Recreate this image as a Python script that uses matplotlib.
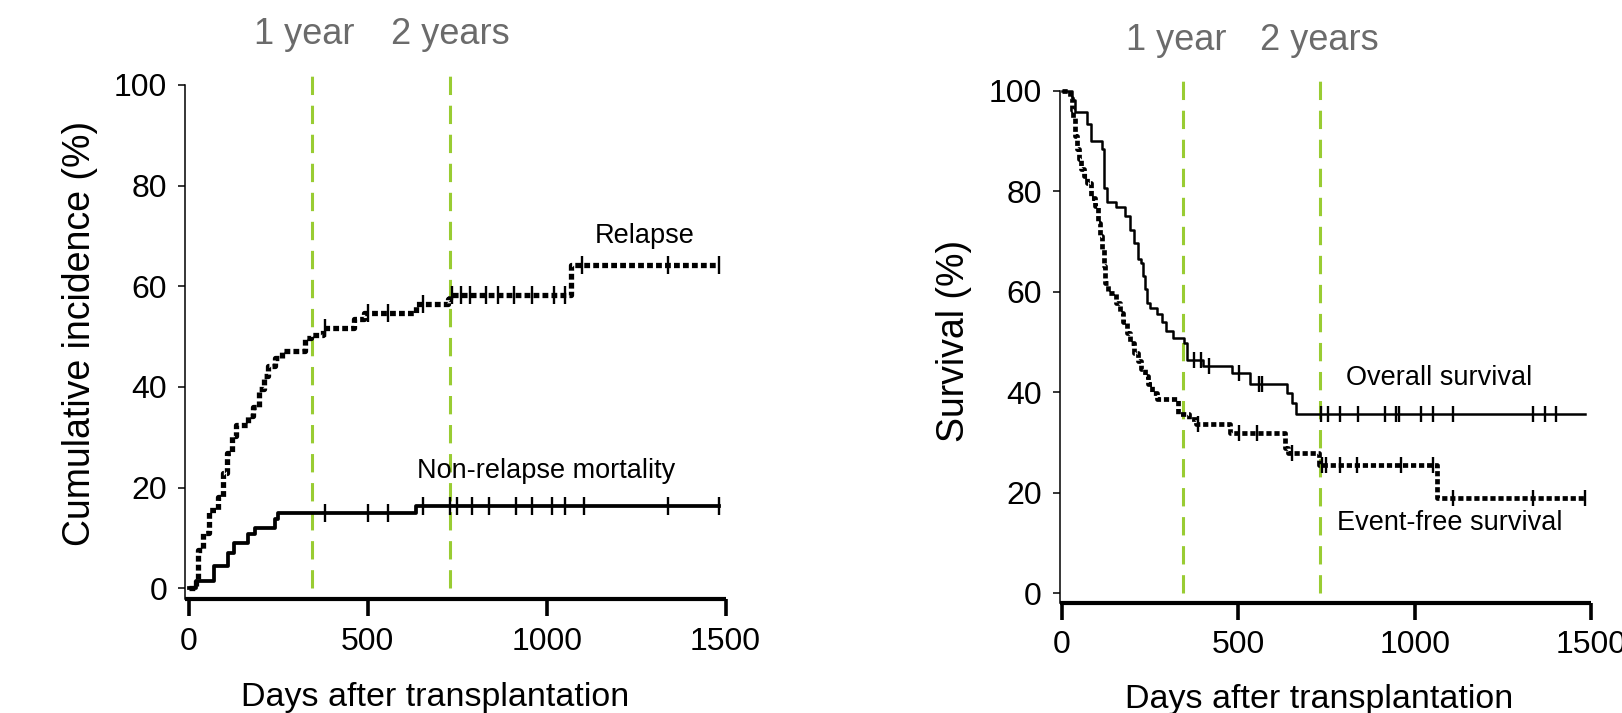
import numpy as np
import matplotlib
matplotlib.use('Agg')
import matplotlib.pyplot as plt

plt.rcParams['font.family'] = ['Liberation Sans', 'DejaVu Sans']

# ---- data (days, %) ----
end_day = 1482
year_lines = [343, 730]
year_labels = ['1 year', '2 years']

relapse_days = [0, 20, 25, 40, 55, 80, 95, 105, 120, 130, 165, 180, 195, 210, 220,
                240, 260, 325, 340, 375, 460, 490, 635, 725, 730, 1068]
relapse_pct = [0, 1.7, 7.6, 10.9, 15.6, 18.2, 22.9, 26.9, 30.2, 32.5, 34.2, 36.1, 39.5,
               42.1, 44.1, 45.8, 47.1, 49.7, 50.4, 51.7, 53.4, 54.7, 56.4, 57.4, 58.2, 64.3]
relapse_censor = [380, 500, 555, 655, 735, 760, 785, 830, 865, 910, 960, 1020, 1050,
                  1100, 1340, 1482]

nrm_days = [0, 20, 70, 110, 125, 165, 185, 240, 250, 635]
nrm_pct = [0, 1.5, 4.4, 7.0, 9.0, 10.8, 12.0, 13.8, 14.9, 16.4]
nrm_censor = [380, 500, 555, 655, 730, 750, 790, 840, 915, 960, 1015, 1050, 1105,
              1340, 1482]

os_days = [0, 27, 37, 72, 82, 113, 118, 128, 153, 178, 193, 204, 214, 224, 229, 234,
           242, 249, 269, 284, 294, 315, 345, 355, 400, 481, 532, 638, 653, 663]
os_pct = [100, 98.3, 95.8, 93.5, 90.0, 88.4, 80.7, 77.8, 76.8, 75.1, 72.4, 69.8, 66.5,
          65.8, 63.1, 60.5, 57.8, 56.8, 55.5, 53.9, 52.2, 50.9, 49.9, 46.5, 45.2, 43.9,
          41.6, 39.9, 37.9, 35.6]
os_censor = [375, 395, 416, 502, 557, 567, 734, 754, 789, 840, 915, 946, 956, 1017,
             1052, 1108, 1335, 1370, 1400]

efs_days = [0, 22, 27, 32, 37, 42, 47, 54, 62, 72, 82, 93, 103, 108, 113, 118, 123,
            131, 153, 163, 173, 183, 193, 204, 214, 224, 234, 244, 254, 269, 330, 360,
            380, 476, 633, 640, 728, 1062]
efs_pct = [100, 98.7, 96.3, 94.7, 91.0, 88.4, 86.4, 84.4, 83.1, 81.7, 78.7, 77.1, 73.8,
           71.1, 68.5, 65.1, 61.8, 59.8, 57.8, 55.8, 53.9, 51.9, 49.9, 47.9, 46.2, 44.6,
           43.2, 41.6, 39.9, 38.6, 35.6, 34.6, 33.6, 31.9, 28.9, 28.0, 25.6, 19.0]
efs_censor = [385, 502, 553, 653, 737, 749, 789, 835, 961, 1052, 1108, 1335, 1482]

GREEN = '#99cc33'
GRAY = '#6b6b6b'
DOTS = (0, (1.1, 0.6))


def km(ax, days, pct, censor, lw, ls, ms):
    d = np.append(days, end_day)
    p = np.append(pct, pct[-1])
    ax.step(d, p, where='post', color='black', lw=lw, linestyle=ls,
            clip_on=False, zorder=3)
    idx = np.searchsorted(days, censor, side='right') - 1
    ax.plot(censor, np.array(pct)[idx], '|', color='black', ms=ms, mew=1.7,
            clip_on=False, zorder=4)


def style(ax, xlim, ylim):
    ax.set_xlim(xlim)
    ax.set_ylim(ylim)
    ax.spines['top'].set_visible(False)
    ax.spines['right'].set_visible(False)
    ax.spines['left'].set_linewidth(1.1)
    ax.spines['bottom'].set_linewidth(3.0)
    ax.spines['bottom'].set_capstyle('butt')
    ax.set_xticks([0, 500, 1000, 1500])
    ax.set_yticks([0, 20, 40, 60, 80, 100])
    ax.tick_params(axis='x', direction='out', length=12, width=2.6, pad=8, labelsize=23)
    ax.tick_params(axis='y', direction='out', length=5, width=1.1, pad=8, labelsize=23)
    for x in year_lines:
        ax.plot([x, x], [0, 103.5], color=GREEN, lw=2.2, linestyle=(0, (6, 3.5)),
                clip_on=False, zorder=2)
    tr = ax.get_xaxis_transform()
    ax.text(year_lines[0] - 20, 1.099, year_labels[0], transform=tr, ha='center',
            va='center', fontsize=26, color=GRAY)
    ax.text(year_lines[1], 1.099, year_labels[1], transform=tr, ha='center',
            va='center', fontsize=26, color=GRAY)


fig = plt.figure(figsize=(16.22, 7.13), dpi=100)

ax1 = fig.add_axes([0.1141, 0.1595, 0.3332, 0.7213])
style(ax1, (-11, 1500), (-2.2, 100))
km(ax1, relapse_days, relapse_pct, relapse_censor, 3.8, DOTS, 13)
km(ax1, nrm_days, nrm_pct, nrm_censor, 2.7, '-', 13)
ax1.text(1275, 70, 'Relapse', fontsize=19.5, ha='center', va='center')
ax1.text(999, 23.3, 'Non-relapse mortality', fontsize=19.5, ha='center', va='center')
ax1.set_xlabel('Days after transplantation', fontsize=24.5)
ax1.xaxis.set_label_coords(0.462, -0.161)
ax1.set_ylabel('Cumulative incidence (%)', fontsize=27)
ax1.yaxis.set_label_coords(-0.161, 0.516)

ax2 = fig.add_axes([0.6535, 0.1547, 0.3274, 0.7177])
style(ax2, (-6, 1500), (-1.9, 100))
km(ax2, efs_days, efs_pct, efs_censor, 3.4, DOTS, 11)
km(ax2, os_days, os_pct, os_censor, 1.8, '-', 11)
ax2.text(1068, 42.9, 'Overall survival', fontsize=19.5, ha='center', va='center')
ax2.text(1098, 14, 'Event-free survival', fontsize=19.5, ha='center', va='center')
ax2.set_xlabel('Days after transplantation', fontsize=24.5)
ax2.xaxis.set_label_coords(0.488, -0.159)
ax2.set_ylabel('Survival (%)', fontsize=27)
ax2.yaxis.set_label_coords(-0.166, 0.511)

fig.savefig('out.png', dpi=100)
